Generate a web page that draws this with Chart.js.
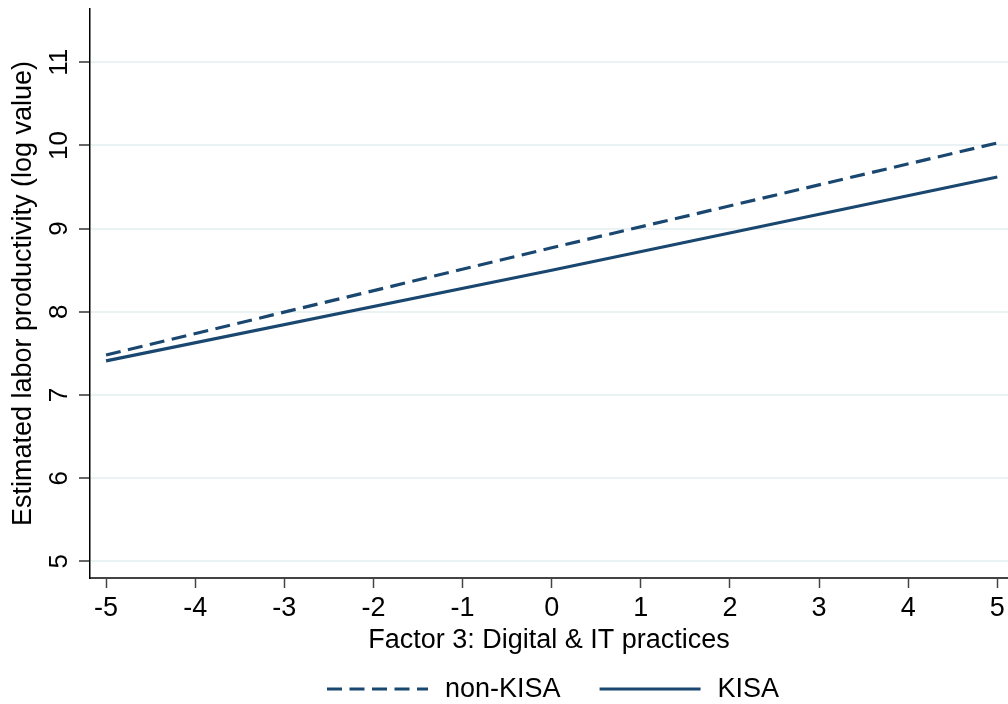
<!DOCTYPE html>
<html>
<head>
<meta charset="utf-8">
<script src="https://cdn.jsdelivr.net/npm/chart.js@4/dist/chart.umd.min.js"></script>
<style>
  html, body { margin: 0; padding: 0; background: #fff; }
  canvas { display: block; }
</style>
</head>
<body>
<canvas id="chart" width="1008" height="704"></canvas>
<script>
// values
const xValues = [-5, 0, 5];
const nonKisa = [7.48, 8.77, 10.03];
const kisa = [7.41, 8.50, 9.62];
const xTicks = [-5, -4, -3, -2, -1, 0, 1, 2, 3, 4, 5];
const yTicks = [5, 6, 7, 8, 9, 10, 11];

const navy = '#1a476f';
const FONT = '"Liberation Sans", Arial, sans-serif';
Chart.defaults.font.family = FONT;
Chart.defaults.color = '#000';

const toPoints = ys => xValues.map((x, i) => ({ x: x, y: ys[i] }));

// rotated y tick labels (Stata style)
const yLabels = {
    id: 'yLabels',
    afterDraw(chart) {
        const ctx = chart.ctx;
        const scale = chart.scales.y;
        ctx.save();
        ctx.font = '26px ' + FONT;
        ctx.fillStyle = '#000';
        ctx.textAlign = 'center';
        ctx.textBaseline = 'alphabetic';
        yTicks.forEach(v => {
            ctx.save();
            ctx.translate(67, scale.getPixelForValue(v));
            ctx.rotate(-Math.PI / 2);
            ctx.fillText(String(v), 0, 0);
            ctx.restore();
        });
        ctx.restore();
    }
};

// legend under the x title
const bottomLegend = {
    id: 'bottomLegend',
    afterDraw(chart) {
        const ctx = chart.ctx;
        const y = 689;
        let x = 327;
        ctx.save();
        ctx.font = '27px ' + FONT;
        ctx.textBaseline = 'middle';
        chart.data.datasets.forEach(ds => {
            ctx.strokeStyle = ds.borderColor;
            ctx.lineWidth = ds.borderWidth;
            ctx.setLineDash(ds.borderDash || []);
            ctx.beginPath();
            ctx.moveTo(x, y);
            ctx.lineTo(x + 101, y);
            ctx.stroke();
            ctx.setLineDash([]);
            ctx.fillStyle = '#000';
            ctx.fillText(ds.label, x + 118, y + 1);
            x += 118 + ctx.measureText(ds.label).width + 39;
        });
        ctx.restore();
    }
};

new Chart(document.getElementById('chart').getContext('2d'), {
    type: 'line',
    data: {
        datasets: [{
            label: 'non-KISA',
            data: toPoints(nonKisa),
            borderColor: navy,
            borderWidth: 3.2,
            borderDash: [15, 7.5],
            pointRadius: 0,
            tension: 0
        }, {
            label: 'KISA',
            data: toPoints(kisa),
            borderColor: navy,
            borderWidth: 3.2,
            pointRadius: 0,
            tension: 0
        }]
    },
    options: {
        responsive: false,
        animation: false,
        layout: { padding: { top: 9, bottom: 46, left: 0, right: 0 } },
        plugins: {
            legend: { display: false },
            tooltip: { enabled: false }
        },
        scales: {
            x: {
                type: 'linear',
                min: -5.18,
                max: 5.12,
                afterBuildTicks: scale => { scale.ticks = xTicks.map(v => ({ value: v })); },
                afterFit: scale => {
                    scale.height = 80;
                    scale.paddingLeft = 0;
                    scale.paddingRight = 0;
                },
                ticks: {
                    font: { size: 27 },
                    color: '#000',
                    padding: 4,
                    maxRotation: 0,
                    autoSkip: false
                },
                grid: {
                    display: true,
                    drawOnChartArea: false,
                    drawTicks: true,
                    tickLength: 10,
                    tickColor: '#444',
                    tickWidth: 1.5
                },
                border: { color: '#444', width: 2 },
                title: {
                    display: true,
                    text: 'Factor 3: Digital & IT practices',
                    font: { size: 27 },
                    color: '#000',
                    padding: { top: 0, bottom: 1 }
                }
            },
            y: {
                min: 4.8,
                max: 11.64,
                afterBuildTicks: scale => { scale.ticks = yTicks.map(v => ({ value: v })); },
                afterFit: scale => {
                    scale.width = 90;
                    scale.paddingTop = 0;
                    scale.paddingBottom = 0;
                },
                ticks: { display: false },
                grid: {
                    color: '#eaf2f3',
                    lineWidth: 2,
                    drawTicks: true,
                    tickLength: 11,
                    tickColor: '#333',
                    tickWidth: 1.5
                },
                border: { color: '#000', width: 1.5 },
                title: {
                    display: true,
                    text: 'Estimated labor productivity (log value)',
                    font: { size: 27 },
                    color: '#000',
                    padding: { top: 7, bottom: 0 }
                }
            }
        }
    },
    plugins: [yLabels, bottomLegend]
});
</script>
</body>
</html>
